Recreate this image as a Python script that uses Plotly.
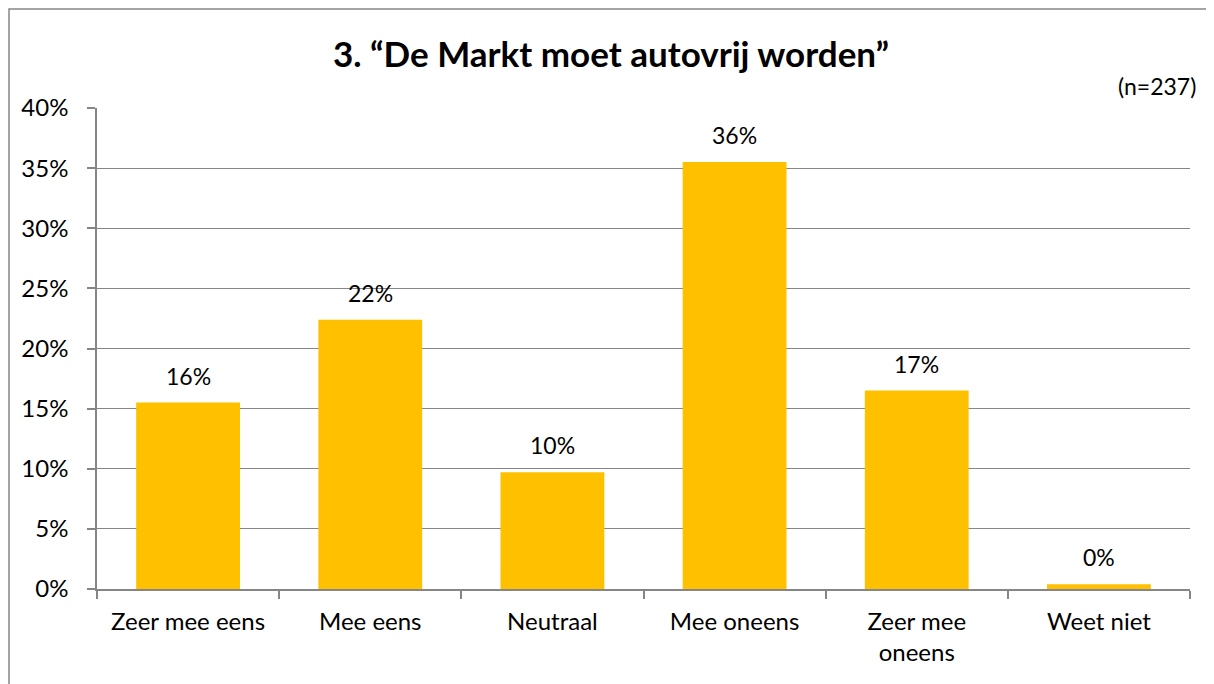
import plotly.graph_objects as go

categories = ["Zeer mee eens", "Mee eens", "Neutraal", "Mee oneens", "Zeer mee<br>oneens", "Weet niet"]
values = [15.5, 22.4, 9.7, 35.5, 16.5, 0.4]
value_labels = ["16%", "22%", "10%", "36%", "17%", "0%"]
y_ticks = [0, 5, 10, 15, 20, 25, 30, 35, 40]
y_tick_labels = [f"{v}%" for v in y_ticks]

# the page body has an 8px margin, so the figure is drawn 8px in from the window edge
OFF = 8
W, H = 1214 - OFF, 684 - OFF
L, R, T, B = 97 - OFF, 1190 - OFF, 108 - OFF, 589 - OFF
FONT = "Lato, Carlito, sans-serif"

def px_x(x):
    return (x - OFF - L) / (R - L)

def px_y(y):
    return (B - (y - OFF)) / (B - T)

fig = go.Figure()
fig.add_trace(go.Bar(
    x=categories, y=values,
    marker=dict(color="#FFC000", line=dict(width=0)),
))

annotations = [
    dict(x=c, y=v, text=t, xref="x", yref="y", showarrow=False,
         yanchor="bottom", yshift=11, font=dict(size=23, color="black", family=FONT))
    for c, v, t in zip(categories, values, value_labels)
]
annotations.append(dict(text="(n=237)", xref="paper", yref="paper",
                        x=px_x(1198), y=px_y(86), xanchor="right", yanchor="middle",
                        showarrow=False, font=dict(size=23, color="black", family=FONT)))

fig.update_layout(
    width=W, height=H,
    margin=dict(l=L, r=W - R, t=T, b=H - B),
    paper_bgcolor="white", plot_bgcolor="white",
    bargap=0.43,
    showlegend=False,
    font=dict(family=FONT, size=24, color="black"),
    title=dict(text="<b>3. “De Markt moet autovrij worden”</b>",
               x=0.5, xref="container", xanchor="center", y=1 - (55 - OFF) / H, yanchor="middle",
               font=dict(size=35, color="black", family=FONT)),
    xaxis=dict(showline=True, linecolor="#868686", linewidth=1.5,
               ticks="outside", tickson="boundaries", ticklen=8, tickcolor="#868686",
               tickwidth=1.5, showgrid=False, ticklabelstandoff=10,
               tickfont=dict(size=24)),
    yaxis=dict(range=[0, 40], tickvals=y_ticks, ticktext=y_tick_labels,
               showline=True, linecolor="#868686", linewidth=1.5,
               ticks="outside", ticklen=8, tickcolor="#868686", tickwidth=1.5,
               showgrid=True, gridcolor="#868686", gridwidth=1.2,
               zeroline=False, tickfont=dict(size=24), ticklabelstandoff=14),
    shapes=[dict(type="rect", xref="paper", yref="paper",
                 x0=px_x(9), x1=px_x(1400), y0=px_y(900), y1=px_y(9),
                 line=dict(color="#868686", width=1.5))],
    annotations=annotations,
)

fig.write_html("out.html")
